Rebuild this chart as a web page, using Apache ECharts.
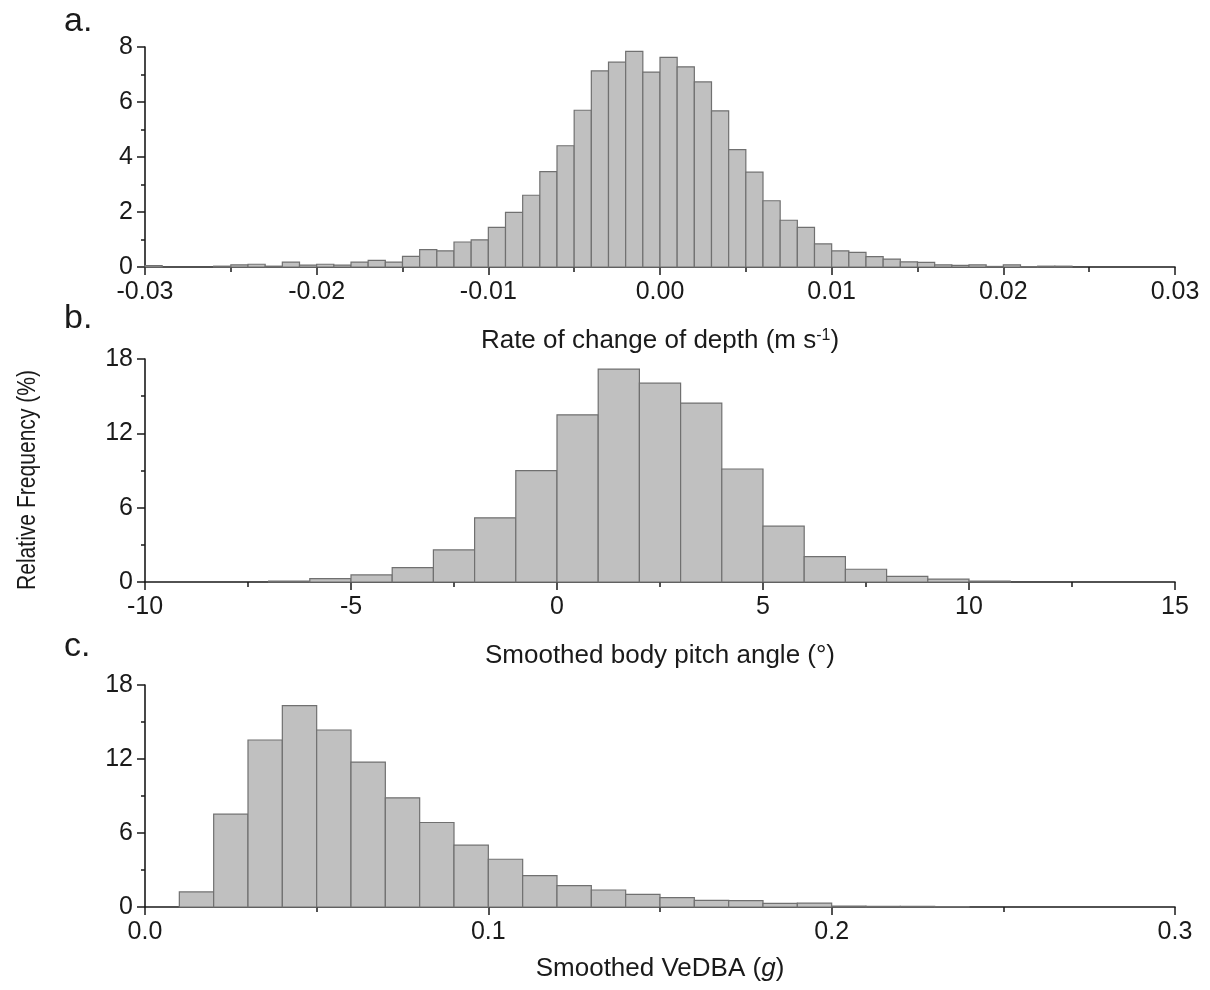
<!DOCTYPE html>
<html><head><meta charset="utf-8">
<script src="https://cdn.jsdelivr.net/npm/echarts@6/dist/echarts.min.js"></script>
<style>html,body{margin:0;padding:0;background:#fff}#chart{width:1210px;height:990px}</style>
</head><body><div id="chart"></div>
<script>
// ---- Data ----
// a. Rate of change of depth (m s-1), bins of 0.001 starting at -0.03
const depthBinStart = -0.03;
const depthBinWidth = 0.001;
const depthFreq = [
  0.05, 0, 0, 0, 0.03, 0.08, 0.10, 0.03, 0.18, 0.07,
  0.10, 0.07, 0.18, 0.24, 0.18, 0.39, 0.63, 0.59, 0.91, 0.99,
  1.44, 1.99, 2.61, 3.47, 4.41, 5.70, 7.13, 7.45, 7.84, 7.09,
  7.62, 7.28, 6.73, 5.68, 4.27, 3.45, 2.41, 1.70, 1.44, 0.84,
  0.59, 0.53, 0.38, 0.29, 0.19, 0.17, 0.08, 0.06, 0.08, 0.02,
  0.08, 0.01, 0.03, 0.03, 0, 0, 0, 0, 0, 0
];
const depthTickLabels = ['-0.03', '-0.02', '-0.01', '0.00', '0.01', '0.02', '0.03'];
const depthYLabels = ['0', '2', '4', '6', '8'];

// b. Smoothed body pitch angle (deg), bins of 1 starting at -7
const pitchBinStart = -7;
const pitchBinWidth = 1;
const pitchFreq = [
  0.08, 0.27, 0.57, 1.16, 2.59, 5.18, 8.99, 13.49, 17.19, 16.05,
  14.44, 9.12, 4.51, 2.05, 1.03, 0.46, 0.24, 0.08
];
const pitchTickLabels = ['-10', '-5', '0', '5', '10', '15'];
const pitchYLabels = ['0', '6', '12', '18'];

// c. Smoothed VeDBA (g), bins of 0.01 starting at 0.01
const vedbaBinStart = 0.01;
const vedbaBinWidth = 0.01;
const vedbaFreq = [
  1.22, 7.53, 13.54, 16.32, 14.35, 11.75, 8.85, 6.85, 5.01, 3.87,
  2.54, 1.73, 1.38, 1.03, 0.76, 0.54, 0.51, 0.30, 0.32, 0.08,
  0.06, 0.05, 0.04
];
const vedbaTickLabels = ['0.0', '0.1', '0.2', '0.3'];
const vedbaYLabels = ['0', '6', '12', '18'];

// ---- Build chart ----
function makeBins(start, width, freqs) {
  const out = [];
  freqs.forEach(function (f, i) {
    if (f <= 0) return;
    const lo = +(start + i * width).toFixed(6);
    const hi = +(start + (i + 1) * width).toFixed(6);
    out.push([lo, hi, f]);
  });
  return out;
}

const FONT = '"Liberation Sans", Arial, sans-serif';
const TXT = '#1a1a1a';

function labelFrom(arr, min, interval) {
  return function (v) {
    const i = Math.round((v - min) / interval);
    return arr[i] !== undefined ? arr[i] : '';
  };
}

function xAxisCfg(gi, min, max, interval, labels, name, gap, rich) {
  return {
    type: 'value', gridIndex: gi, min: min, max: max, interval: interval,
    name: name, nameLocation: 'middle', nameGap: gap,
    nameTextStyle: { fontFamily: FONT, fontSize: 26, color: TXT, rich: rich },
    axisLine: { show: true, onZero: false, lineStyle: { color: '#1a1a1a', width: 1.6 } },
    axisTick: { show: true, inside: false, length: 8, lineStyle: { color: '#1a1a1a', width: 1.5 } },
    minorTick: { show: true, splitNumber: 2, length: 5, lineStyle: { color: '#1a1a1a', width: 1.5 } },
    splitLine: { show: false },
    axisLabel: { fontFamily: FONT, fontSize: 25, color: TXT, margin: 13,
      formatter: labelFrom(labels, min, interval), showMinLabel: true, showMaxLabel: true }
  };
}
function yAxisCfg(gi, max, interval, labels) {
  return {
    type: 'value', gridIndex: gi, min: 0, max: max, interval: interval,
    axisLine: { show: true, onZero: false, lineStyle: { color: '#1a1a1a', width: 1.6 } },
    axisTick: { show: true, inside: false, length: 8, lineStyle: { color: '#1a1a1a', width: 1.5 } },
    minorTick: { show: true, splitNumber: 2, length: 4, lineStyle: { color: '#1a1a1a', width: 1.5 } },
    splitLine: { show: false },
    axisLabel: { fontFamily: FONT, fontSize: 25, color: TXT, margin: 12,
      formatter: labelFrom(labels, 0, interval) }
  };
}

function renderBar(params, api) {
  const p0 = api.coord([api.value(0), api.value(2)]);
  const p1 = api.coord([api.value(1), 0]);
  return {
    type: 'rect',
    shape: { x: p0[0], y: p0[1], width: p1[0] - p0[0], height: p1[1] - p0[1] },
    style: { fill: '#c0c0c0', stroke: '#707070', lineWidth: 1.2 }
  };
}
function histSeries(gi, data) {
  return {
    type: 'custom', xAxisIndex: gi, yAxisIndex: gi, data: data,
    encode: { x: [0, 1], y: 2 }, renderItem: renderBar, silent: true, z: 1
  };
}

const chart = echarts.init(document.getElementById('chart'));
chart.setOption({
  animation: false,
  backgroundColor: '#fff',
  grid: [
    { left: 145, top: 47, width: 1030, height: 220 },
    { left: 145, top: 359, width: 1030, height: 223 },
    { left: 145, top: 685, width: 1030, height: 222 }
  ],
  xAxis: [
    xAxisCfg(0, -0.03, 0.03, 0.01, depthTickLabels, 'Rate of change of depth (m s{sup|-1})', 61,
      { sup: { fontFamily: FONT, fontSize: 16, color: TXT, verticalAlign: 'top', padding: [0, 0, 10, 0] } }),
    xAxisCfg(1, -10, 15, 5, pitchTickLabels, 'Smoothed body pitch angle (°)', 61, {}),
    xAxisCfg(2, 0, 0.3, 0.1, vedbaTickLabels, 'Smoothed VeDBA ({it|g})', 49,
      { it: { fontFamily: FONT, fontSize: 26, color: TXT, fontStyle: 'italic' } })
  ],
  yAxis: [
    yAxisCfg(0, 8, 2, depthYLabels),
    yAxisCfg(1, 18, 6, pitchYLabels),
    yAxisCfg(2, 18, 6, vedbaYLabels)
  ],
  series: [
    histSeries(0, makeBins(depthBinStart, depthBinWidth, depthFreq)),
    histSeries(1, makeBins(pitchBinStart, pitchBinWidth, pitchFreq)),
    histSeries(2, makeBins(vedbaBinStart, vedbaBinWidth, vedbaFreq))
  ],
  graphic: [
    { type: 'text', left: 64, top: 5, style: { text: 'a.', font: '34px ' + FONT, fill: TXT } },
    { type: 'text', left: 64, top: 302, style: { text: 'b.', font: '34px ' + FONT, fill: TXT } },
    { type: 'text', left: 64, top: 630, style: { text: 'c.', font: '34px ' + FONT, fill: TXT } },
    { type: 'text', x: 28, y: 480, rotation: Math.PI / 2, scaleX: 0.81,
      style: { text: 'Relative Frequency (%)', font: '26px ' + FONT,
        fill: TXT, align: 'center', verticalAlign: 'middle' } }
  ]
});
</script></body></html>
